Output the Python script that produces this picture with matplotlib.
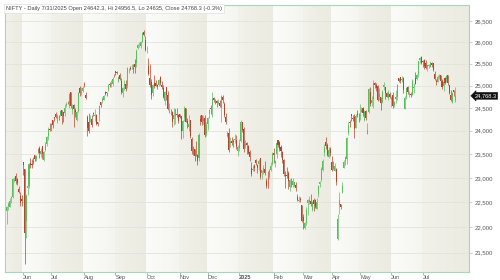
import matplotlib
matplotlib.use("Agg")
import matplotlib.pyplot as plt
import numpy as np
from matplotlib.ticker import NullLocator, FixedLocator
import matplotlib.colors as mcolors

# ── data: NIFTY daily OHLC, 16 May 2024 - 31 Jul 2025, one line per month ─────
month_days = {
    "2024-05": [16, 17, 21, 22, 23, 24, 27, 28, 29, 30, 31],
    "2024-06": [3, 4, 5, 6, 7, 10, 11, 12, 13, 14, 18, 19, 20, 21, 24, 25, 26, 27, 28],
    "2024-07": [1, 2, 3, 4, 5, 8, 9, 10, 11, 12, 15, 16, 18, 19, 22, 23, 24, 25, 26, 29, 30, 31],
    "2024-08": [1, 2, 5, 6, 7, 8, 9, 12, 13, 14, 16, 19, 20, 21, 22, 23, 26, 27, 28, 29, 30],
    "2024-09": [2, 3, 4, 5, 6, 9, 10, 11, 12, 13, 16, 17, 18, 19, 20, 23, 24, 25, 26, 27, 30],
    "2024-10": [1, 3, 4, 7, 8, 9, 10, 11, 14, 15, 16, 17, 18, 21, 22, 23, 24, 25, 28, 29, 30, 31],
    "2024-11": [1, 4, 5, 6, 7, 8, 11, 12, 13, 14, 18, 19, 21, 22, 25, 26, 27, 28, 29],
    "2024-12": [2, 3, 4, 5, 6, 9, 10, 11, 12, 13, 16, 17, 18, 19, 20, 23, 24, 26, 27, 30, 31],
    "2025-01": [1, 2, 3, 6, 7, 8, 9, 10, 13, 14, 15, 16, 17, 20, 21, 22, 23, 24, 27, 28, 29, 30, 31],
    "2025-02": [1, 3, 4, 5, 6, 7, 10, 11, 12, 13, 14, 17, 18, 19, 20, 21, 24, 25, 27, 28],
    "2025-03": [3, 4, 5, 6, 7, 10, 11, 12, 13, 17, 18, 19, 20, 21, 24, 25, 26, 27, 28],
    "2025-04": [1, 2, 3, 4, 7, 8, 9, 11, 15, 16, 17, 21, 22, 23, 24, 25, 28, 29, 30],
    "2025-05": [2, 5, 6, 7, 8, 9, 12, 13, 14, 15, 16, 19, 20, 21, 22, 23, 26, 27, 28, 29, 30],
    "2025-06": [2, 3, 4, 5, 6, 9, 10, 11, 12, 13, 16, 17, 18, 19, 20, 23, 24, 25, 26, 27, 30],
    "2025-07": [1, 2, 3, 4, 7, 8, 9, 10, 11, 14, 15, 16, 17, 18, 21, 22, 23, 24, 25, 28, 29, 30, 31],
}
month_labels = ["", "Jun", "Jul", "Aug", "Sep", "Oct", "Nov", "Dec", "2025",
                "Feb", "Mar", "Apr", "May", "Jun", "Jul"]

opens = [
    22319, 22415, 22404, 22577, 22614, 22930, 23038, 22977, 22762, 22617, 22568,
    23338, 23180, 22129, 22798, 22821, 23319, 23284, 23344, 23480, 23399, 23570, 23629, 23499, 23661, 23382, 23577, 23723, 23881, 24044,
    23993, 24228, 24292, 24369, 24213, 24329, 24351, 24459, 24400, 24388, 24572, 24615, 24544, 24854, 24445, 24568, 24444, 24231, 24423, 24943, 24839, 24886,
    25030, 24789, 24302, 24189, 24289, 24249, 24386, 24320, 24342, 24185, 24334, 24636, 24648, 24681, 24863, 24845, 24906, 25025, 25031, 25035, 25249,
    25333, 25302, 25089, 25250, 25094, 24823, 24999, 25035, 24992, 25352, 25406, 25416, 25402, 25487, 25525, 25872, 25921, 25899, 26005, 26248, 26061,
    25788, 25453, 25181, 25085, 24832, 25066, 25067, 25004, 25023, 25186, 25008, 24951, 24664, 24956, 24798, 24378, 24412, 24418, 24252, 24328, 24371, 24349,
    24368, 24316, 24000, 24308, 24489, 24207, 24088, 24225, 23822, 23543, 23605, 23529, 23488, 23411, 24253, 24340, 24204, 24274, 23927,
    24141, 24368, 24489, 24539, 24729, 24633, 24652, 24615, 24604, 24498, 24753, 24584, 24297, 23877, 23960, 23738, 23769, 23775, 23802, 23797, 23561,
    23637, 23783, 24196, 24045, 23680, 23746, 23674, 23551, 23195, 23165, 23250, 23377, 23277, 23290, 23421, 23099, 23129, 23183, 22940, 22961, 23026, 23169, 23296,
    23528, 23319, 23509, 23801, 23761, 23649, 23543, 23384, 23051, 23055, 23097, 22810, 22964, 22848, 22821, 22857, 22609, 22516, 22568, 22433,
    22194, 21974, 22074, 22476, 22508, 22521, 22345, 22536, 22541, 22354, 22662, 22874, 22960, 23169, 23515, 23751, 23700, 23434, 23600,
    23341, 23193, 23150, 23190, 21758, 22446, 22460, 22695, 23207, 23344, 23401, 23950, 24185, 24357, 24277, 24290, 24070, 24371, 24343,
    24311, 24420, 24500, 24233, 24431, 23935, 24420, 24864, 24613, 24694, 25064, 25006, 24996, 24744, 24733, 24639, 24956, 24957, 24832, 24726, 24812,
    24669, 24786, 24561, 24691, 24749, 25160, 25196, 25134, 25164, 24473, 24733, 24977, 24788, 24803, 24787, 24939, 25179, 25151, 25268, 25576, 25661,
    25551, 25588, 25505, 25428, 25450, 25428, 25515, 25512, 25256, 25101, 25090, 25196, 25231, 25108, 24999, 25167, 25139, 25243, 25010, 24782, 24609, 24890, 24642.3,
]
highs = [
    22432, 22502, 22591, 22629, 22993, 23026, 23110, 22998, 22826, 22705, 22653,
    23339, 23180, 22670, 22910, 23320, 23412, 23389, 23442, 23481, 23490, 23630, 23665, 23624, 23667, 23558, 23754, 23889, 24087, 24175,
    24165, 24236, 24309, 24401, 24363, 24345, 24443, 24461, 24403, 24592, 24636, 24661, 24838, 24854, 24596, 24582, 24504, 24426, 24862, 24999, 24971, 24985,
    25078, 24851, 24350, 24382, 24338, 24340, 24420, 24473, 24359, 24196, 24564, 24638, 24734, 24787, 24867, 24858, 25043, 25073, 25129, 25192, 25268,
    25333, 25333, 25216, 25275, 25168, 24957, 25130, 25114, 25433, 25393, 25445, 25482, 25482, 25611, 25849, 25957, 26011, 26032, 26250, 26277, 26134,
    25907, 25639, 25485, 25143, 25045, 25234, 25134, 25044, 25159, 25212, 25093, 25008, 24886, 24978, 24882, 24604, 24480, 24440, 24492, 24484, 24499, 24372,
    24368, 24316, 24229, 24537, 24503, 24276, 24336, 24242, 23873, 23675, 23606, 23780, 23507, 23956, 24351, 24344, 24354, 24345, 24188,
    24301, 24481, 24574, 24857, 24751, 24705, 24677, 24691, 24675, 24792, 24781, 24624, 24394, 24004, 24066, 23870, 23867, 23823, 23938, 23915, 23690,
    23822, 24226, 24196, 24089, 23795, 23752, 23689, 23596, 23341, 23264, 23293, 23391, 23292, 23391, 23426, 23170, 23270, 23347, 23007, 23137, 23183, 23322, 23546,
    23632, 23381, 23762, 23807, 23773, 23694, 23568, 23391, 23144, 23235, 23134, 22975, 23000, 22994, 22924, 22922, 22668, 22625, 22613, 22450,
    22262, 22106, 22394, 22556, 22634, 22676, 22522, 22578, 22558, 22577, 22857, 22941, 23216, 23403, 23709, 23870, 23737, 23647, 23649,
    23459, 23350, 23306, 23214, 22254, 22698, 22468, 22924, 23368, 23452, 23872, 24189, 24242, 24359, 24347, 24365, 24355, 24457, 24396,
    24590, 24526, 24510, 24449, 24447, 24164, 24944, 24973, 24767, 25116, 25071, 25062, 25011, 24946, 24737, 24909, 25079, 24957, 24865, 24892, 24863,
    24754, 24846, 24644, 24899, 25029, 25160, 25199, 25223, 25196, 24754, 24967, 24983, 24872, 24863, 25137, 25058, 25318, 25266, 25556, 25654, 25669,
    25593, 25609, 25587, 25470, 25489, 25549, 25548, 25525, 25323, 25151, 25245, 25256, 25238, 25145, 25111, 25182, 25233, 25247, 25011, 24889, 24847, 24903, 24956.5,
]
lows = [
    22054, 22345, 22404, 22483, 22577, 22908, 22871, 22858, 22685, 22418, 22417,
    23062, 21281, 21792, 22642, 22789, 23207, 23207, 23296, 23354, 23354, 23521, 23413, 23442, 23398, 23350, 23562, 23674, 23806, 23985,
    23993, 24056, 24207, 24281, 24168, 24240, 24331, 24141, 24193, 24331, 24522, 24587, 24504, 24508, 24363, 24075, 24308, 24211, 24411, 24774, 24798, 24856,
    24956, 24687, 23894, 23960, 24184, 24079, 24311, 24213, 24116, 24099, 24204, 24522, 24602, 24669, 24785, 24771, 24875, 24973, 24965, 24999, 25199,
    25235, 25264, 25083, 25127, 24801, 24753, 24896, 24885, 24941, 25282, 25360, 25366, 25286, 25286, 25426, 25847, 25886, 25871, 26000, 26151, 25794,
    25739, 25230, 24967, 24694, 24757, 24947, 24980, 24921, 24987, 25008, 24929, 24729, 24567, 24680, 24445, 24378, 24341, 24073, 24135, 24141, 24307, 24172,
    24280, 23817, 23842, 24204, 24179, 24066, 24004, 23839, 23509, 23484, 23350, 23464, 23263, 23359, 24135, 24125, 24145, 23874, 23877,
    24008, 24280, 24366, 24295, 24621, 24580, 24511, 24583, 24527, 24180, 24601, 24303, 24149, 23870, 23537, 23647, 23685, 23654, 23738, 23600, 23460,
    23562, 23751, 23976, 23551, 23637, 23497, 23503, 23345, 23047, 23134, 23147, 23272, 23100, 23170, 22976, 22981, 23090, 23050, 22787, 22786, 22976, 23139, 23278,
    23318, 23222, 23424, 23648, 23556, 23443, 23316, 23046, 22798, 22992, 22775, 22726, 22801, 22814, 22812, 22720, 22518, 22513, 22508, 22105,
    21965, 21965, 22045, 22246, 22464, 22429, 22314, 22329, 22377, 22353, 22599, 22808, 22940, 23133, 23452, 23602, 23451, 23412, 23450,
    23136, 23158, 23145, 22857, 21744, 22271, 22353, 22695, 23207, 23273, 23299, 23903, 24073, 24216, 24216, 23847, 24054, 24290, 24198,
    24238, 24400, 24331, 24220, 24240, 23935, 24378, 24547, 24535, 24494, 24954, 24875, 24654, 24686, 24462, 24614, 24900, 24704, 24737, 24677, 24717,
    24526, 24502, 24530, 24613, 24671, 25077, 25055, 25081, 24825, 24473, 24703, 24813, 24750, 24733, 24783, 24824, 25026, 25125, 25187, 25523, 25490,
    25429, 25379, 25384, 25331, 25408, 25425, 25425, 25340, 25129, 25001, 25088, 25146, 25100, 24918, 24882, 25035, 25086, 25018, 24807, 24646, 24599, 24772, 24635,
]
closes = [
    22403, 22466, 22529, 22597, 22967, 22957, 22932, 22888, 22704, 22488, 22531,
    23264, 21885, 22620, 22821, 23290, 23259, 23265, 23323, 23399, 23466, 23558, 23516, 23567, 23501, 23538, 23721, 23869, 24044, 24011,
    24142, 24124, 24286, 24302, 24324, 24321, 24433, 24324, 24316, 24502, 24587, 24613, 24801, 24531, 24509, 24479, 24413, 24406, 24835, 24836, 24857, 24951,
    25011, 24718, 24056, 23993, 24297, 24117, 24368, 24347, 24139, 24144, 24541, 24573, 24699, 24771, 24811, 24823, 25010, 25017, 25052, 25152, 25236,
    25279, 25280, 25199, 25145, 24852, 24936, 25041, 24918, 25389, 25357, 25384, 25419, 25377, 25416, 25791, 25939, 25940, 26004, 26216, 26179, 25811,
    25797, 25251, 25015, 24796, 25013, 24982, 24998, 24964, 25128, 25057, 24971, 24749, 24854, 24781, 24472, 24436, 24399, 24181, 24339, 24467, 24341, 24205,
    24304, 23995, 24213, 24484, 24199, 24148, 24141, 23884, 23559, 23533, 23453, 23518, 23349, 23907, 24222, 24194, 24275, 23914, 24131,
    24276, 24457, 24468, 24708, 24677, 24620, 24610, 24641, 24548, 24768, 24668, 24336, 24199, 23952, 23588, 23753, 23728, 23751, 23814, 23645, 23645,
    23743, 24189, 24005, 23616, 23708, 23689, 23527, 23432, 23086, 23176, 23213, 23312, 23203, 23345, 23025, 23155, 23205, 23092, 22829, 22957, 23163, 23250, 23508,
    23482, 23361, 23739, 23696, 23604, 23560, 23382, 23072, 23046, 23031, 22929, 22960, 22945, 22933, 22913, 22796, 22553, 22547, 22545, 22125,
    22119, 22083, 22337, 22545, 22553, 22461, 22498, 22470, 22397, 22509, 22834, 22907, 23191, 23350, 23658, 23669, 23487, 23592, 23519,
    23165, 23332, 23250, 22904, 22162, 22536, 22399, 22829, 23329, 23437, 23852, 24125, 24167, 24329, 24247, 24039, 24328, 24336, 24334,
    24347, 24461, 24380, 24414, 24274, 24008, 24925, 24578, 24666, 25062, 25020, 24945, 24684, 24813, 24610, 24853, 25001, 24827, 24752, 24834, 24751,
    24717, 24543, 24620, 24751, 25003, 25103, 25104, 25141, 24888, 24718, 24946, 24853, 24812, 24793, 25112, 24972, 25045, 25245, 25549, 25637, 25517,
    25542, 25453, 25405, 25461, 25461, 25523, 25476, 25355, 25150, 25082, 25196, 25212, 25112, 24968, 25091, 25061, 25220, 25062, 24837, 24681, 24821, 24855, 24768.3,
]
y_ticks = [21500, 22000, 22500, 23000, 23500, 24000, 24500, 25000, 25500, 26000, 26500]
title = ("NIFTY - Daily 7/31/2025 Open 24642.3, Hi 24956.5, Lo 24635, "
         "Close 24768.3 (-0.3%)")

# ── layout ───────────────────────────────────────────────────────────────────
plt.rcParams["font.family"] = ["Liberation Sans", "DejaVu Sans"]
W, H = 500, 280
fig = plt.figure(figsize=(W / 100, H / 100), dpi=100)
rect = [5 / W, 1 - 272 / H, 464 / W, 267 / H]

o = np.array(opens, float)
h = np.array(highs, float)
lo = np.array(lows, float)
c = np.array(closes, float)
x = np.arange(len(c))

# first trading index of each month
counts = [len(v) for v in month_days.values()]
month_start = np.concatenate([[0], np.cumsum(counts)[:-1]])
month_end = np.cumsum(counts)
xlim = (-1.1, 310.1)

# background: alternating month bands with soft horizontal gradients
bg = fig.add_axes(rect, zorder=0)
bg.set_xlim(*xlim)
bg.set_ylim(0, 1)
bg.axis("off")
for k, (s, e) in enumerate(zip(month_start, month_end)):
    x0 = s - 0.5 if k > 0 else xlim[0]
    x1 = e - 0.5 if k < len(counts) - 1 else xlim[1]
    if k % 2 == 0:
        c0, c1 = "#f2f1ea", "#ecebe1"
    else:
        c0, c1 = "#fbfbf9", "#f5f5f0"
    cmap = mcolors.LinearSegmentedColormap.from_list("g", [c0, c1])
    bg.imshow(np.linspace(0, 1, 64)[None, :], cmap=cmap, aspect="auto",
              extent=(x0, x1, 0, 1), interpolation="bilinear")

ax = fig.add_axes(rect, zorder=1)
ax.patch.set_alpha(0)
ax.set_yscale("log")
ax.set_xlim(*xlim)
ax.set_ylim(21125, 26886)

for yv in y_ticks:
    ax.axhline(yv, color="#e3e3dc", lw=0.6, zorder=0)

# candles
up = c >= o
col = np.where(up, "#5cbc60", "#b5452a")
ax.vlines(x, lo, h, colors=col, lw=0.5, zorder=2)
body_lo = np.minimum(o, c)
body_h = np.maximum(np.abs(c - o), 6)
ax.bar(x, body_h, bottom=body_lo, width=0.7, color=col, lw=0, zorder=3)

# axes styling
for side in ["left", "right", "top", "bottom"]:
    ax.spines[side].set_color("#a6d7b8")
    ax.spines[side].set_linewidth(0.8)

ax.yaxis.tick_right()
ax.yaxis.set_major_locator(FixedLocator(y_ticks))
ax.yaxis.set_minor_locator(NullLocator())
ax.set_yticklabels([f"{v:,}" for v in y_ticks])
ax.tick_params(axis="y", length=2.2, width=0.5, color="#9ccfb0", pad=2,
               labelsize=4.3, labelcolor="#555555")

ax.set_xticks(month_start[1:])
ax.set_xticklabels(month_labels[1:])
ax.tick_params(axis="x", length=2.0, width=0.5, color="#9a9a9a", pad=0.2,
               labelsize=4.1, labelcolor="#555555")
for lbl in ax.get_xticklabels():
    lbl.set_ha("left")
    if lbl.get_text() == "2025":
        lbl.set_fontweight("bold")

# title inside the frame
ax.text(0.002, 0.997, title, transform=ax.transAxes, ha="left", va="top",
        fontsize=4.1, color="#444444", zorder=5,
        bbox=dict(boxstyle="square,pad=0.35", fc="white", ec="#d8d8d8", lw=0.4))

# last price marker
ax.text(1.012, c[-1], f"{c[-1]:,.1f}", transform=ax.get_yaxis_transform(),
        ha="left", va="center", fontsize=4.1, color="white", clip_on=False,
        bbox=dict(boxstyle="larrow,pad=0.18", fc="#111111", ec="#111111", lw=0.3))

fig.savefig("out.png", dpi=100, facecolor="white")
